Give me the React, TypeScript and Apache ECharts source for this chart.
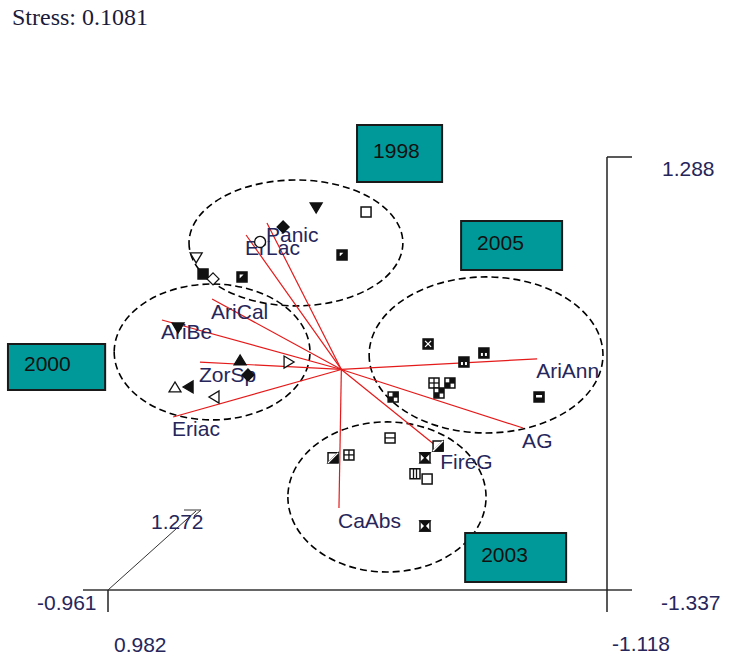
import React, { useEffect, useRef } from "react";
import * as echarts from "echarts";

// ---- data ----
const stressText = "Stress: 0.1081";

const axisMinX = -1.118;
const axisMaxX = 0.982;
const axisMinY = -1.337;
const axisMaxY = 1.288;
const thirdAxisMin = -0.961;
const thirdAxisMax = 1.272;
const axisTickLabels = [
  axisMaxY.toFixed(3),
  axisMinY.toFixed(3),
  axisMaxX.toFixed(3),
  axisMinX.toFixed(3),
  thirdAxisMax.toFixed(3),
  thirdAxisMin.toFixed(3),
];

const vectorNames = ["Panic", "ErLac", "AriCal", "AriBe", "ZorSp", "Eriac", "CaAbs", "FireG", "AG", "AriAnn"];
const vectorX = [0.313, 0.401, 0.544, 0.755, 0.595, 0.708, 0.01, -0.42, -0.765, -0.824];
const vectorY = [0.888, 0.815, 0.427, 0.3, 0.045, -0.288, -0.84, -0.488, -0.355, 0.064];

const siteX = [
  0.106, -0.104, 0.245, 0.342, -0.003, 0.611, 0.582, 0.54, 0.418,
  0.687, 0.426, 0.393, 0.22, 0.7, 0.645, 0.536,
  -0.365, -0.516, -0.6, -0.39, -0.457, -0.411, -0.218, -0.832,
  -0.205, 0.035, -0.032, -0.407, -0.352, -0.31, -0.361, -0.352,
];
const siteY = [
  0.979, 0.955, 0.864, 0.773, 0.694, 0.676, 0.579, 0.549, 0.561,
  0.252, 0.058, -0.033, 0.045, -0.106, -0.106, -0.167,
  0.155, 0.045, 0.1, -0.082, -0.082, -0.142, -0.167, -0.167,
  -0.415, -0.536, -0.518, -0.464, -0.536, -0.633, -0.664, -0.949,
];
const siteSymbol = [
  "triDownFilled", "sqOpen", "diamondFilled", "circleOpen", "sqHalf", "triDownOpen", "sqFilled", "diamondOpen", "sqHalf",
  "triDownFilled", "triUpFilled", "diamondFilled", "triRightOpen", "triUpOpen", "triLeftFilled", "triLeftOpen",
  "sqDarkX", "sqDarkDots", "sqDarkDots", "sqPlus", "sqPlusQ", "sqPlusQ", "sqPlusQ", "sqDarkBar",
  "sqHBar", "sqDiag", "sqPlus", "sqDiag", "sqX", "sqVBar", "sqOpen", "sqX",
];

const ellipseYears = ["1998", "2000", "2005", "2003"];
const ellipseCX = [0.191, 0.544, -0.609, -0.192];
const ellipseCY = [0.767, 0.106, 0.088, -0.773];
const ellipseRX = [0.45, 0.412, 0.492, 0.417];
const ellipseRY = [0.382, 0.412, 0.473, 0.455];

const boxYears = ["1998", "2005", "2000", "2003"];
const boxX1 = [-0.066, -0.504, 1.403, -0.521];
const boxY1 = [1.482, 0.9, 0.155, -0.991];
const boxX2 = [-0.424, -0.929, 0.994, -0.946];
const boxY2 = [1.137, 0.603, -0.124, -1.288];

// ---- styles ----
const LABEL_COLOR = "#26265a";
const SANS = "'Liberation Sans', Arial, sans-serif";
const SERIF = "'Liberation Serif', 'Times New Roman', serif";
const FS = 21;

function markerShapes(kind: string, cx: number, cy: number) {
  const s = 5;
  const black = "#111";
  const out: any[] = [];
  const sq = (fill: string) => ({
    type: "rect",
    shape: { x: cx - s, y: cy - s, width: 2 * s, height: 2 * s },
    style: { fill, stroke: black, lineWidth: 1.5 },
  });
  const ln = (x1: number, y1: number, x2: number, y2: number, c = black) => ({
    type: "line",
    shape: { x1, y1, x2, y2 },
    style: { stroke: c, lineWidth: 1.3 },
  });
  const poly = (pts: number[][], filled: boolean) => ({
    type: "polygon",
    shape: { points: pts },
    style: { fill: filled ? black : "#fff", stroke: black, lineWidth: 1.3 },
  });
  switch (kind) {
    case "triDownFilled":
    case "triDownOpen":
      out.push(poly([[cx - 6, cy - 5], [cx + 6, cy - 5], [cx, cy + 5]], kind === "triDownFilled"));
      break;
    case "triUpFilled":
    case "triUpOpen":
      out.push(poly([[cx - 6, cy + 5], [cx + 6, cy + 5], [cx, cy - 5]], kind === "triUpFilled"));
      break;
    case "triLeftFilled":
    case "triLeftOpen":
      out.push(poly([[cx + 5, cy - 6], [cx + 5, cy + 6], [cx - 5, cy]], kind === "triLeftFilled"));
      break;
    case "triRightOpen":
      out.push(poly([[cx - 5, cy - 6], [cx - 5, cy + 6], [cx + 5, cy]], false));
      break;
    case "diamondFilled":
    case "diamondOpen":
      out.push(poly([[cx, cy - 6], [cx + 6, cy], [cx, cy + 6], [cx - 6, cy]], kind === "diamondFilled"));
      break;
    case "circleOpen":
      out.push({ type: "circle", shape: { cx, cy, r: 5.5 }, style: { fill: "#fff", stroke: black, lineWidth: 1.3 } });
      break;
    case "sqOpen":
      out.push(sq("#fff"));
      break;
    case "sqFilled":
      out.push(sq(black));
      break;
    case "sqHalf":
      out.push(sq(black));
      out.push(poly([[cx - s + 2, cy - s + 2], [cx + s - 2, cy - s + 2], [cx - s + 2, cy + s - 2]], false));
      break;
    case "sqHBar":
      out.push(sq("#fff"));
      out.push(ln(cx - s, cy, cx + s, cy));
      break;
    case "sqVBar":
      out.push(sq("#fff"));
      out.push(ln(cx - 1.5, cy - s, cx - 1.5, cy + s));
      out.push(ln(cx + 1.5, cy - s, cx + 1.5, cy + s));
      break;
    case "sqPlus":
      out.push(sq("#fff"));
      out.push(ln(cx - s, cy, cx + s, cy));
      out.push(ln(cx, cy - s, cx, cy + s));
      break;
    case "sqPlusQ":
      out.push(sq("#fff"));
      out.push({ type: "rect", shape: { x: cx, y: cy - s, width: s, height: s }, style: { fill: black } });
      out.push({ type: "rect", shape: { x: cx - s, y: cy, width: s, height: s }, style: { fill: black } });
      out.push(ln(cx - s, cy, cx + s, cy));
      out.push(ln(cx, cy - s, cx, cy + s));
      break;
    case "sqDiag":
      out.push(sq("#fff"));
      out.push(poly([[cx + s, cy - s], [cx + s, cy + s], [cx - s, cy + s]], true));
      out.push(ln(cx - s, cy + s, cx + s, cy - s, "#fff"));
      break;
    case "sqX":
      out.push(sq("#fff"));
      out.push(poly([[cx - s, cy - s], [cx + s, cy - s], [cx, cy]], true));
      out.push(poly([[cx - s, cy + s], [cx + s, cy + s], [cx, cy]], true));
      break;
    case "sqDarkX":
      out.push(sq(black));
      out.push(ln(cx - 3, cy - 3, cx + 3, cy + 3, "#fff"));
      out.push(ln(cx - 3, cy + 3, cx + 3, cy - 3, "#fff"));
      break;
    case "sqDarkDots":
      out.push(sq(black));
      out.push({ type: "rect", shape: { x: cx - 3, y: cy, width: 2, height: 3 }, style: { fill: "#fff" } });
      out.push({ type: "rect", shape: { x: cx + 1, y: cy, width: 2, height: 3 }, style: { fill: "#fff" } });
      break;
    case "sqDarkBar":
      out.push(sq(black));
      out.push({ type: "rect", shape: { x: cx - 3, y: cy - 2, width: 6, height: 2.5 }, style: { fill: "#fff" } });
      break;
    default:
      out.push(sq("#fff"));
  }
  return out;
}

export default function App() {
  const ref = useRef<HTMLDivElement>(null);

  useEffect(() => {
    if (!ref.current) return;
    const chart = echarts.init(ref.current, undefined, { renderer: "svg" });

    const sans = (size: number) => ({ fontFamily: SANS, fontSize: size });
    const tickText = (i: number, x: number, y: number) => ({
      type: "text",
      x,
      y,
      style: { text: axisTickLabels[i], ...sans(FS), fill: LABEL_COLOR, align: "left", verticalAlign: "middle" },
    });

    const option: any = {
      animation: false,
      backgroundColor: "#ffffff",
      grid: { left: 108, right: 122, top: 157, bottom: 67, containLabel: false },
      xAxis: {
        type: "value",
        min: axisMinX,
        max: axisMaxX,
        inverse: true,
        show: false,
      },
      yAxis: {
        type: "value",
        min: axisMinY,
        max: axisMaxY,
        show: false,
      },
      graphic: [
        { type: "line", shape: { x1: 83, y1: 590, x2: 632, y2: 590 }, style: { stroke: "#333", lineWidth: 1.5 } },
        { type: "line", shape: { x1: 607, y1: 157, x2: 607, y2: 612 }, style: { stroke: "#222", lineWidth: 1.5 } },
        { type: "line", shape: { x1: 607, y1: 157, x2: 632, y2: 157 }, style: { stroke: "#222", lineWidth: 1.5 } },
        { type: "line", shape: { x1: 108, y1: 590, x2: 108, y2: 612 }, style: { stroke: "#222", lineWidth: 1.5 } },
        { type: "line", shape: { x1: 108, y1: 590, x2: 196, y2: 511 }, style: { stroke: "#333", lineWidth: 1 } },
        { type: "line", shape: { x1: 184, y1: 510, x2: 201, y2: 510 }, style: { stroke: "#333", lineWidth: 1 } },
        { type: "line", shape: { x1: 201, y1: 510, x2: 194, y2: 516 }, style: { stroke: "#333", lineWidth: 1 } },
        tickText(0, 662, 168),
        tickText(1, 661, 602),
        tickText(2, 114, 644),
        tickText(3, 612, 643),
        tickText(4, 151, 521),
        tickText(5, 37, 602),
        { type: "text", x: 12, y: 17, style: { text: stressText, fontFamily: SERIF, fontSize: 24, fill: "#1a1a3a", align: "left", verticalAlign: "middle" } },
      ],
      series: [
        {
          type: "custom",
          name: "ellipses",
          z: 2,
          clip: false,
          encode: { x: 0, y: 1 },
          data: ellipseYears.map((_, i) => [ellipseCX[i], ellipseCY[i], ellipseRX[i], ellipseRY[i]]),
          renderItem: (params: any, api: any) => {
            const c = api.coord([api.value(0), api.value(1)]);
            const sz = api.size([api.value(2), api.value(3)]);
            const rx = sz[0];
            const ry = sz[1];
            const d = `M ${c[0] - rx} ${c[1]} A ${rx} ${ry} 0 1 0 ${c[0] + rx} ${c[1]} A ${rx} ${ry} 0 1 0 ${c[0] - rx} ${c[1]} Z`;
            return {
              type: "path",
              shape: { pathData: d },
              style: { fill: "none", stroke: "#000", lineWidth: 1.6, lineDash: [7, 4] },
            };
          },
        },
        {
          type: "custom",
          name: "vectors",
          z: 3,
          clip: false,
          encode: { x: 0, y: 1 },
          data: vectorNames.map((_, i) => [vectorX[i], vectorY[i]]),
          renderItem: (params: any, api: any) => {
            const o = api.coord([0, 0]);
            const e = api.coord([api.value(0), api.value(1)]);
            return {
              type: "group",
              children: [
                {
                  type: "line",
                  shape: { x1: o[0], y1: o[1], x2: e[0], y2: e[1] },
                  style: { stroke: "#e41a1a", lineWidth: 1.2 },
                },
                {
                  type: "text",
                  x: e[0] - 1,
                  y: e[1] + 12,
                  z2: 10,
                  style: {
                    text: vectorNames[params.dataIndex],
                    ...sans(FS),
                    fill: LABEL_COLOR,
                    align: "left",
                    verticalAlign: "middle",
                  },
                },
              ],
            };
          },
        },
        {
          type: "custom",
          name: "sites",
          z: 4,
          clip: false,
          encode: { x: 0, y: 1 },
          data: siteX.map((x, i) => [x, siteY[i]]),
          renderItem: (params: any, api: any) => {
            const c = api.coord([api.value(0), api.value(1)]);
            return { type: "group", children: markerShapes(siteSymbol[params.dataIndex], c[0], c[1]) };
          },
        },
        {
          type: "custom",
          name: "years",
          z: 6,
          clip: false,
          encode: { x: [0, 2], y: [1, 3] },
          data: boxYears.map((_, i) => [boxX1[i], boxY1[i], boxX2[i], boxY2[i]]),
          renderItem: (params: any, api: any) => {
            const p1 = api.coord([api.value(0), api.value(1)]);
            const p2 = api.coord([api.value(2), api.value(3)]);
            const x = Math.min(p1[0], p2[0]);
            const y = Math.min(p1[1], p2[1]);
            const w = Math.abs(p2[0] - p1[0]);
            const h = Math.abs(p2[1] - p1[1]);
            return {
              type: "group",
              children: [
                {
                  type: "rect",
                  shape: { x, y, width: w, height: h },
                  style: { fill: "#009999", stroke: "#1a1a1a", lineWidth: 2 },
                },
                {
                  type: "text",
                  x: x + 16,
                  y: y + h / 2 - 3,
                  style: {
                    text: boxYears[params.dataIndex],
                    ...sans(FS),
                    fill: "#111",
                    align: "left",
                    verticalAlign: "middle",
                  },
                },
              ],
            };
          },
        },
      ],
    };

    chart.setOption(option);
    return () => chart.dispose();
  }, []);

  return (
    <div
      ref={ref}
      style={{ position: "fixed", left: 0, top: 0, width: 729, height: 657, background: "#fff" }}
    />
  );
}
